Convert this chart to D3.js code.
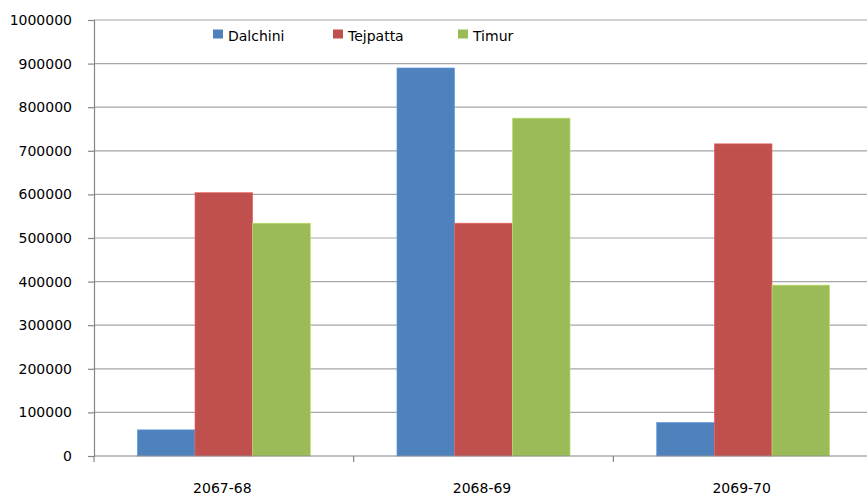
<!DOCTYPE html>
<html>
<head>
<meta charset="utf-8">
<script src="https://cdn.jsdelivr.net/npm/d3@7"></script>
<style>
  body { margin: 0; background: #fff; }
  svg { display: block; font-family: "DejaVu Sans", Verdana, sans-serif; }
</style>
</head>
<body>
<div id="chart"></div>
<script>
var categories = ["2067-68", "2068-69", "2069-70"];
var seriesNames = ["Dalchini", "Tejpatta", "Timur"];
var dalchini = [60000, 890000, 77000];
var tejpatta = [604000, 534000, 716000];
var timur = [534000, 775000, 392000];
var yTicks = [0, 100000, 200000, 300000, 400000, 500000, 600000, 700000, 800000, 900000, 1000000];
var colors = ["#4F81BD", "#C0504D", "#9BBB59"];

var seriesValues = [dalchini, tejpatta, timur];

var width = 867;
var height = 496;
var margin = { top: 20, right: -6, bottom: 40, left: 94 };
var innerW = width - margin.left - margin.right;
var innerH = height - margin.top - margin.bottom;

var svg = d3.select("#chart")
    .append("svg")
    .attr("width", width)
    .attr("height", height)

var g = svg.append("g")
    .attr("transform", `translate(${margin.left}, ${margin.top})`)

var x0 = d3.scaleBand()
    .domain(categories)
    .range([0, innerW])

// Excel-like gap width 150%: bar = cat / 4.5
var x1 = d3.scaleBand()
    .domain(seriesNames)
    .range([x0.bandwidth() * 0.75 / 4.5, x0.bandwidth() * 3.75 / 4.5])

var y = d3.scaleLinear()
    .domain([0, 1000000])
    .range([innerH, 0])

// gridlines
g.append("g")
    .selectAll("line")
    .data(yTicks.slice(1))
    .enter()
    .append("line")
    .attr("x1", 0)
    .attr("x2", innerW)
    .attr("y1", d => y(d))
    .attr("y2", d => y(d))
    .attr("stroke", "#a6a6a6")
    .attr("stroke-width", 1.2)

// bars
var groups = g.selectAll(".grp")
    .data(categories)
    .enter()
    .append("g")
    .attr("transform", d => `translate(${x0(d)}, 0)`)

groups.selectAll("rect")
    .data((c, i) => seriesNames.map((s, j) => ({ s: s, v: seriesValues[j][i], c: colors[j] })))
    .enter()
    .append("rect")
    .attr("x", d => x1(d.s))
    .attr("y", d => y(d.v))
    .attr("width", x1.bandwidth())
    .attr("height", d => y(0) - y(d.v))
    .attr("fill", d => d.c)
    .attr("stroke", d => d3.color(d.c).brighter(0.6))
    .attr("stroke-width", 0.6)

// y axis
var yAxis = g.append("g")
    .call(d3.axisLeft(y).tickValues(yTicks).tickFormat(d3.format("d")).tickSize(6).tickPadding(16))
yAxis.select(".domain").attr("stroke", "#868686").attr("stroke-width", 1.2)
yAxis.selectAll(".tick line").attr("stroke", "#868686").attr("stroke-width", 1.2)
yAxis.selectAll("text").attr("font-size", 14).attr("fill", "#000").attr("font-family", "DejaVu Sans")

// x axis
var xa = g.append("g").attr("transform", `translate(0, ${innerH})`)
xa.append("line")
    .attr("x1", 0).attr("x2", innerW)
    .attr("stroke", "#868686").attr("stroke-width", 1.2)
xa.selectAll(".xt")
    .data(categories)
    .enter()
    .append("line")
    .attr("x1", d => x0(d)).attr("x2", d => x0(d))
    .attr("y1", 0).attr("y2", 6)
    .attr("stroke", "#868686").attr("stroke-width", 1.2)
xa.selectAll("text")
    .data(categories)
    .enter()
    .append("text")
    .attr("x", d => x0(d) + x0.bandwidth() / 2 - 1.5)
    .attr("y", 37)
    .attr("text-anchor", "middle")
    .attr("font-size", 14)
    .text(d => d)

// legend
var legendX = [213, 333, 458];
var legend = svg.append("g")
legend.selectAll("rect")
    .data(seriesNames)
    .enter()
    .append("rect")
    .attr("x", (d, i) => legendX[i])
    .attr("y", 29.5)
    .attr("width", 10)
    .attr("height", 9)
    .attr("fill", (d, i) => colors[i])
legend.selectAll("text")
    .data(seriesNames)
    .enter()
    .append("text")
    .attr("x", (d, i) => legendX[i] + 15)
    .attr("y", 41)
    .attr("font-size", 14)
    .text(d => d)
</script>
</body>
</html>
